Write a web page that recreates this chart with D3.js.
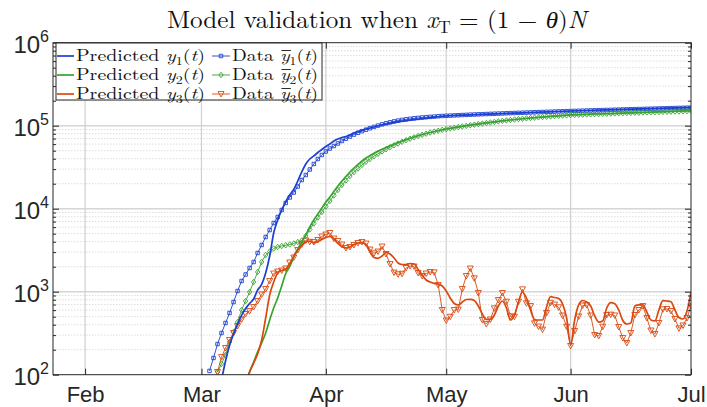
<!DOCTYPE html>
<html><head><meta charset="utf-8">
<script src="https://cdn.jsdelivr.net/npm/d3@7"></script>
<style>body{margin:0;background:#fff}svg{display:block}</style>
</head><body>
<svg id="c" width="707" height="407"></svg>
<script>
// ---------------- DATA ----------------
// day offsets from 2020-03-01 (daily data, null = not shown)
const dataStart = "2020-03-01";
const dataDays = d3.range(0, 123);
const y1Data = [null,null,111,159,234,318,420,554,751,1019,1346,1611,1930,2279,2926,3652,4560,5535,6725,7943,9646,11700,13650,15670,18500,22170,25470,29660,34560,39700,44380,48880,53100,56900,61100,65440,69700,73900,78150,82130,85880,89520,93080,96720,100300,103700,106900,109900,112700,115200,117500,119400,121100,122800,124100,125600,126600,127700,128700,129800,130900,131600,132300,133000,133700,134400,135100,135800,136400,137000,137600,138200,138800,139400,140000,140500,141100,141700,142200,142800,143400,143900,144500,145100,145600,146200,146800,147300,147900,148500,149000,149600,150200,150700,151200,151700,152200,152700,153200,153700,154200,154700,155200,155700,156200,156700,157200,157700,158200,158700,159200,159700,160200,160700,161200,161700,162200,162700,163200,163700,164200,164700,165200];
const y2Data = [null,null,null,null,108,135,173,248,327,431,602,773,991,1309,1727,2280,2769,3050,3315,3455,3555,3625,3705,3810,3970,4140,4690,5616,6632,7834,9125,10630,12380,14430,16800,19300,21870,24770,27680,30500,33610,36730,39700,42800,45860,48900,51960,55080,58060,61030,63970,66880,69730,72480,75150,77700,80100,82600,84900,87080,89100,91000,92600,94400,96200,97900,99600,101300,102900,104600,106200,107800,109400,111000,112600,114200,115800,117300,118800,120100,121400,122600,123800,125000,126100,127200,128300,129300,130300,131300,132200,133100,133900,134600,135300,135900,136500,137100,137700,138300,138900,139500,140000,140600,141100,141600,142100,142600,143100,143600,144100,144600,145100,145600,146100,146600,147100,147600,148100,148600,149200,149800,150400];
const y3Data = [null,null,null,null,108,163,210,262,318,386,463,539,585,654,773,925,1078,1345,1657,1752,1800,1903,2248,2582,3179,3705,4140,3993,3960,4197,4626,4890,5097,4375,4080,3705,3361,3456,3653,3861,3970,3808,3224,2902,3050,3504,2846,2156,1703,1620,1648,1930,2040,2012,1680,1546,1657,1727,1710,1204,602,450,500,602,610,1078,1546,1903,1450,965,456,408,463,631,794,965,758,505,500,758,1069,725,672,416,381,350,554,737,701,649,517,379,222,336,503,682,690,517,301,293,379,524,530,518,376,277,241,318,524,602,672,482,341,309,420,614,620,585,469,362,392,482,672];

// predicted curves (day offsets from 2020-03-01)
const pred1Days = [5,6,7,8,9,10,11,12,13,14,15,16,17,18,19,20,21,22,23,24,25,26,27,28,29,30,31,32,33,34,35,36,37,38,39,40,41,42,43,44,45,46,47,48,49,50,55,61,70,80,92,105,122];
const pred1 = [86,146,225,309,408,517,628,721,817,1048,1222,1680,2690,5090,7310,9640,12200,14620,17030,21560,27700,34570,39720,43190,47560,51650,56110,60200,65440,69190,72130,74180,77300,81650,85100,88000,91300,93800,96500,99200,101900,104200,106500,108900,111100,113300,121300,130900,136800,143000,150300,157700,166700];
const pred2Days = [11,12,13,14,15,16,17,18,19,20,21,22,23,24,25,26,27,28,29,30,31,32,33,34,35,36,37,38,39,40,41,42,44,46,50,55,61,70,80,92,105,122];
const pred2 = [75,108,142,188,241,318,456,636,840,1172,1657,2012,2620,3268,3970,4820,6025,7310,8635,10190,12040,13830,16110,18760,21570,24440,27690,30920,34090,37570,40830,43760,49570,54600,65440,78300,91300,106800,121200,134700,142000,152000];
const pred3Days = d3.range(11, 123);
const pred3 = [80,108,138,178,262,482,913,1309,1680,1800,1851,2156,2692,3179,3603,3970,4080,3861,4024,4255,4498,4626,4314,3808,3485,3361,3456,3705,3861,3861,3705,3008,2582,2526,2692,2967,2846,2547,2217,2127,2127,2187,2156,1851,1589,1384,1309,1262,1238,1171,1019,840,721,692,751,805,810,783,672,539,463,463,524,672,773,636,456,524,751,992,840,602,463,456,456,654,871,851,828,711,482,228,456,692,783,751,672,510,431,444,636,737,717,602,450,408,420,672,692,692,569,456,444,602,779,773,758,602,489,469,585,992];

const monthTicks = ["2020-02-01","2020-03-01","2020-04-01","2020-05-01","2020-06-01","2020-07-01"];
const monthLabels = ["Feb","Mar","Apr","May","Jun","Jul"];
const yMajor = [1e2,1e3,1e4,1e5,1e6];
const xDomain = ["2020-01-24","2020-07-01"];

// ---------------- CHART ----------------
const svg = d3.select("#c");
const L = 53, R = 691, T = 42.7, B = 374.7;
const t0 = Date.parse(dataStart + "T00:00:00Z");
const dayDate = d => new Date(t0 + d * 864e5);
const pd = s => new Date(Date.parse(s + "T00:00:00Z"));

const x = d3.scaleUtc().domain(xDomain.map(pd)).range([L, R]);
const y = d3.scaleLog().domain([1e2, 1e6]).range([B, T]);

const yMinor = [];
for (let e = 2; e < 6; e++) for (let m = 2; m <= 9; m++) yMinor.push(m * Math.pow(10, e));

const AX = "#262626";
const colors = ["#1b3fd3", "#37a331", "#d9480f"];
const sans = "'Liberation Sans', Arial, Helvetica, sans-serif";
const serif = "'Latin Modern Roman','CMU Serif','Liberation Serif','DejaVu Serif',serif";

// grid
const grid = svg.append("g");
grid.selectAll(".mn").data(yMinor).join("line")
  .attr("x1", L).attr("x2", R).attr("y1", d => y(d)).attr("y2", d => y(d))
  .attr("stroke", "#dedede").attr("stroke-width", 1).attr("stroke-dasharray", "1.5,1.5");
grid.selectAll(".mj").data(yMajor.slice(1, 4)).join("line")
  .attr("x1", L).attr("x2", R).attr("y1", d => y(d)).attr("y2", d => y(d))
  .attr("stroke", "#d6d6d6").attr("stroke-width", 1.4);
grid.selectAll(".vx").data(monthTicks.slice(0, 5).map(pd)).join("line")
  .attr("x1", d => x(d)).attr("x2", d => x(d)).attr("y1", T).attr("y2", B)
  .attr("stroke", "#cfcfcf").attr("stroke-width", 1.2);

svg.append("clipPath").attr("id", "clip").append("rect")
  .attr("x", L).attr("y", T).attr("width", R - L).attr("height", B - T);
const plot = svg.append("g").attr("clip-path", "url(#clip)");

const triDown = d3.symbol().type({draw(ctx, size) {
  const h = Math.sqrt(size); ctx.moveTo(-h*0.55, -h*0.45); ctx.lineTo(h*0.55, -h*0.45); ctx.lineTo(0, h*0.55); ctx.closePath();
}}).size(30);
const diamond = d3.symbol().type({draw(ctx, size) {
  const h = Math.sqrt(size) / 2; ctx.moveTo(0, -h); ctx.lineTo(h*0.8, 0); ctx.lineTo(0, h); ctx.lineTo(-h*0.8, 0); ctx.closePath();
}}).size(30);
const square = d3.symbol().type(d3.symbolSquare).size(12);
const markers = [square, diamond, triDown];

const dataSets = [y1Data, y2Data, y3Data];
const lineD = d3.line().defined(d => d.v != null).x(d => x(dayDate(d.d))).y(d => y(d.v));
dataSets.forEach((arr, i) => {
  const pts = dataDays.map((d, j) => ({d, v: arr[j]}));
  plot.append("path").attr("d", lineD(pts)).attr("fill", "none")
    .attr("stroke", colors[i]).attr("stroke-width", 0.9);
  plot.append("g").selectAll("path").data(pts.filter(p => p.v != null)).join("path")
    .attr("transform", p => `translate(${x(dayDate(p.d))},${y(p.v)})`)
    .attr("d", markers[i]()).attr("fill", "none").attr("stroke", colors[i]).attr("stroke-width", 0.9);
});

const predSets = [[pred1Days, pred1], [pred2Days, pred2], [pred3Days, pred3]];
const lineP = d3.line().x(d => x(dayDate(d.d))).y(d => y(d.v)).curve(d3.curveMonotoneX);
predSets.forEach(([days, vals], i) => {
  const pts = days.map((d, j) => ({d, v: vals[j]}));
  plot.append("path").attr("d", lineP(pts)).attr("fill", "none")
    .attr("stroke", colors[i]).attr("stroke-width", 1.7);
});

// axes
function style(g) { g.select(".domain").remove(); g.selectAll("line").attr("stroke", AX); }
svg.append("g").attr("transform", `translate(${L},0)`)
  .call(d3.axisLeft(y).tickValues(yMinor).tickSize(-3).tickFormat("")).call(style);
svg.append("g").attr("transform", `translate(${R},0)`)
  .call(d3.axisRight(y).tickValues(yMinor).tickSize(-3).tickFormat("")).call(style);
svg.append("g").attr("transform", `translate(${R},0)`)
  .call(d3.axisRight(y).tickValues(yMajor).tickSize(-6).tickFormat("")).call(style);
const yl = svg.append("g").attr("transform", `translate(${L},0)`)
  .call(d3.axisLeft(y).tickValues(yMajor).tickSize(-6).tickPadding(4)).call(style);
yl.selectAll(".tick text").each(function(d) {
  const t = d3.select(this).text(null).attr("fill", AX).attr("font-family", sans)
    .attr("font-size", 24).attr("dy", "0.42em");
  t.append("tspan").text("10");
  t.append("tspan").attr("font-size", 16).attr("dy", -11).text(Math.round(Math.log10(d)));
});
const xb = svg.append("g").attr("transform", `translate(0,${B})`)
  .call(d3.axisBottom(x).tickValues(monthTicks.map(pd)).tickSize(-6).tickPadding(12)
    .tickFormat((d, i) => monthLabels[i])).call(style);
xb.selectAll(".tick text").attr("fill", AX).attr("font-family", sans).attr("font-size", 22);
svg.append("g").attr("transform", `translate(0,${T})`)
  .call(d3.axisTop(x).tickValues(monthTicks.map(pd)).tickSize(-6).tickFormat("")).call(style);
svg.append("rect").attr("x", L).attr("y", T).attr("width", R - L).attr("height", B - T)
  .attr("fill", "none").attr("stroke", AX).attr("stroke-width", 1);

// helper: rich math text with optional overline on a character
function rich(g, parts, size) {
  const t = g.append("text").attr("font-family", serif).attr("font-size", size).attr("fill", "#111");
  let idx = 0, ov = [];
  parts.forEach(p => {
    const s = t.append("tspan").text(p.t);
    if (p.i) s.attr("font-style", "italic");
    if (p.sub) s.attr("font-size", size * 0.7).attr("dy", size * 0.22);
    if (p.back) s.attr("dy", -size * 0.22);
    if (p.ov) ov.push(idx);
    idx += p.t.length;
  });
  ov.forEach(k => {
    const a = t.node().getStartPositionOfChar(k).x, b = t.node().getEndPositionOfChar(k).x;
    g.append("line").attr("x1", a + 1).attr("x2", b + 1).attr("y1", -size * 0.64).attr("y2", -size * 0.64)
      .attr("stroke", "#111").attr("stroke-width", 0.9);
  });
  return t;
}
function fit(g, x0, y0, w) {
  const bw = g.node().getBBox().width;
  g.attr("transform", `translate(${x0},${y0}) scale(${w / bw},1)`);
}

// title
const tg = svg.append("g");
rich(tg, [{t: "Model validation when "}, {t: "x", i: 1}, {t: "T", sub: 1}, {t: " = (1 \u2212 ", back: 1},
  {t: "\u03b8", i: 1}, {t: ")"}, {t: "N", i: 1}], 24);
fit(tg, 167, 28, 423);

// legend
const lg = svg.append("g");
lg.append("rect").attr("x", 56).attr("y", 43).attr("width", 266).attr("height", 57)
  .attr("fill", "#fff").attr("stroke", AX).attr("stroke-width", 1);
[0, 1, 2].forEach(i => {
  const cy = 56 + i * 19;
  lg.append("line").attr("x1", 57).attr("x2", 74).attr("y1", cy).attr("y2", cy)
    .attr("stroke", colors[i]).attr("stroke-width", 1.7);
  lg.append("line").attr("x1", 212).attr("x2", 230).attr("y1", cy).attr("y2", cy)
    .attr("stroke", colors[i]).attr("stroke-width", 0.9);
  lg.append("path").attr("transform", `translate(221,${cy})`).attr("d", markers[i]())
    .attr("fill", "none").attr("stroke", colors[i]).attr("stroke-width", 0.9);
  const g1 = lg.append("g");
  rich(g1, [{t: "Predicted "}, {t: "y", i: 1}, {t: String(i + 1), sub: 1}, {t: "(", back: 1}, {t: "t", i: 1}, {t: ")"}], 16.5);
  fit(g1, 76, cy + 5, 129);
  const g2 = lg.append("g");
  rich(g2, [{t: "Data "}, {t: "y", i: 1, ov: 1}, {t: String(i + 1), sub: 1}, {t: "(", back: 1}, {t: "t", i: 1}, {t: ")"}], 16.5);
  fit(g2, 232, cy + 5, 86);
});
</script>
</body></html>
